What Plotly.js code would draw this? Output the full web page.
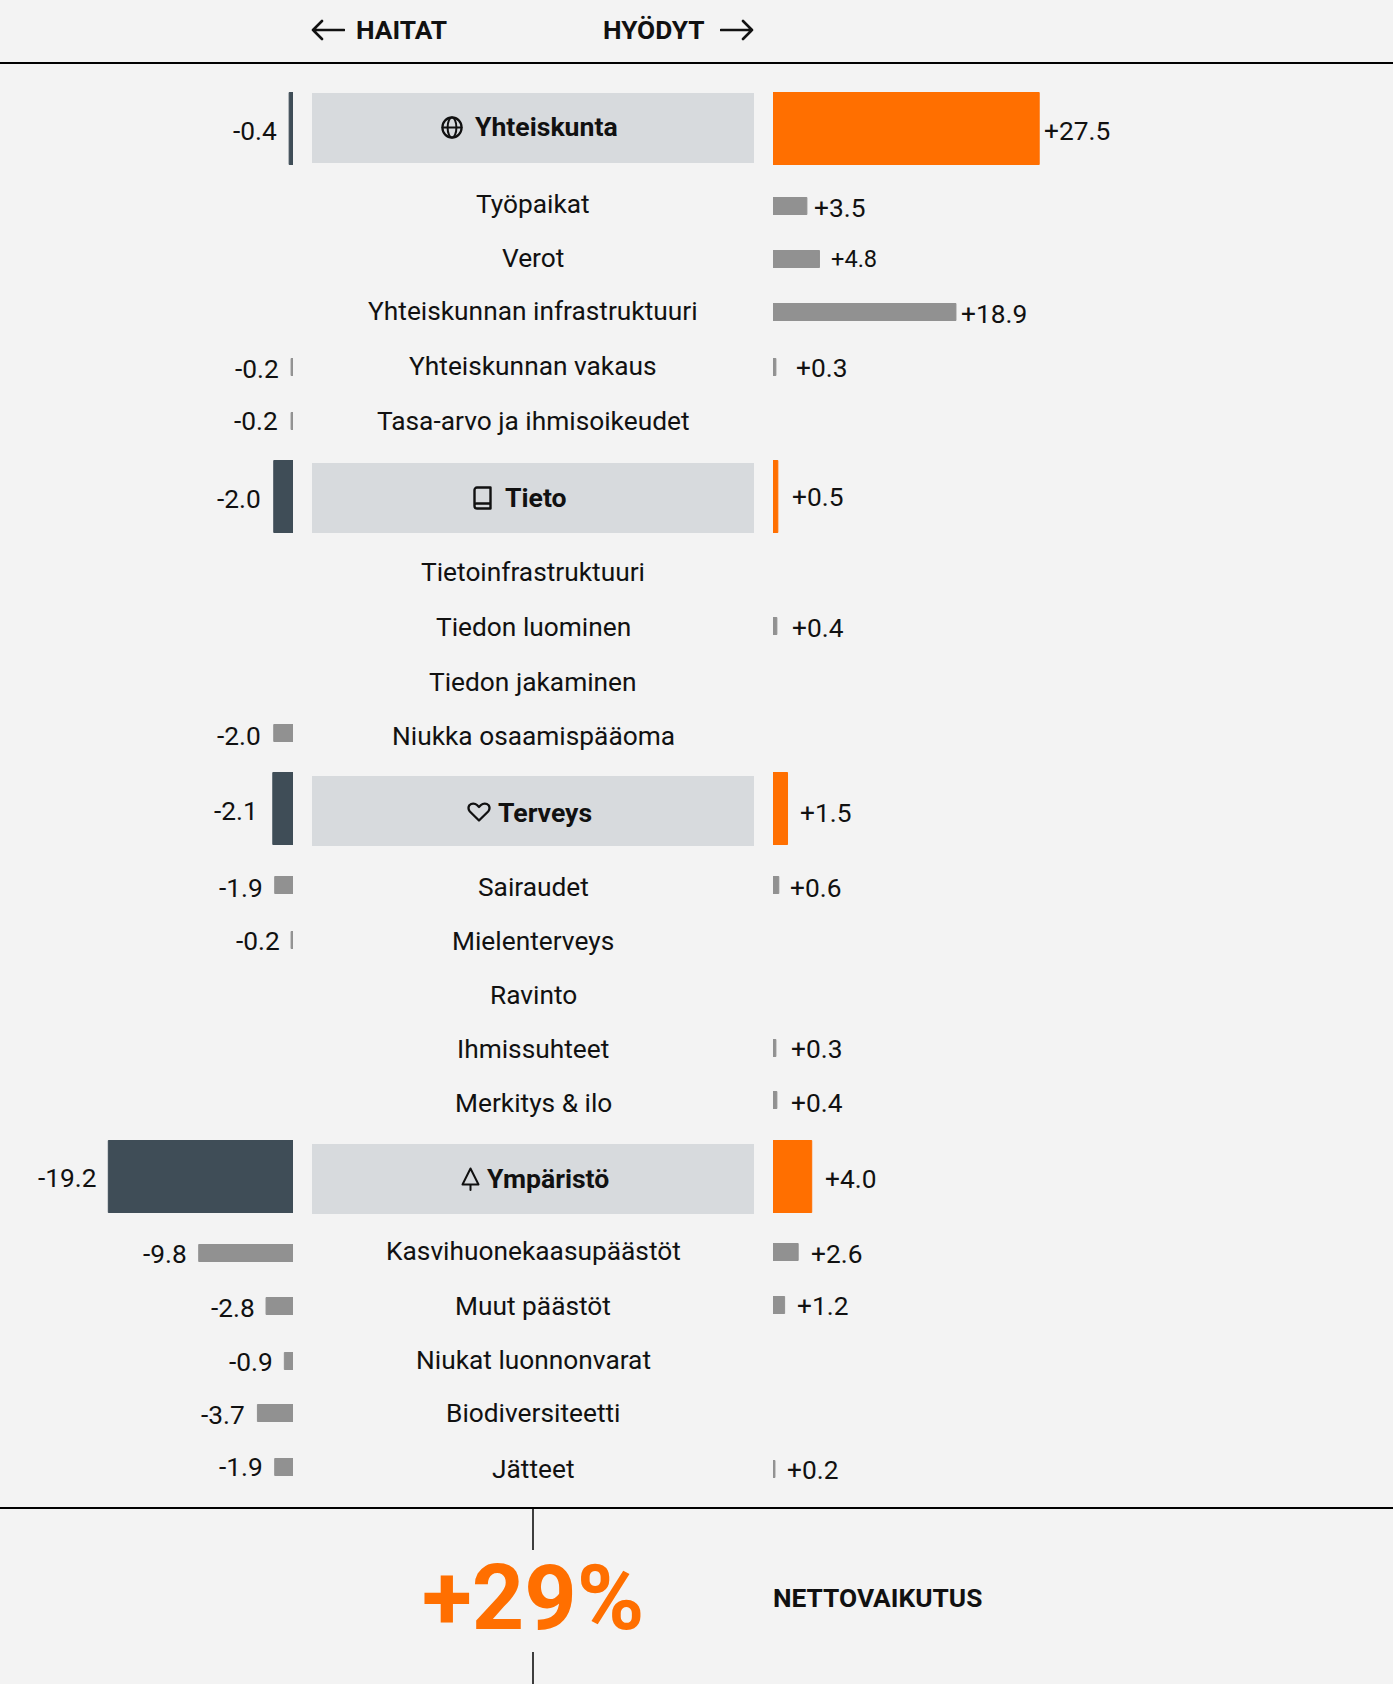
<!DOCTYPE html>
<html><head><meta charset="utf-8">
<script src="https://cdn.plot.ly/plotly-3.0.1.min.js"></script>
<style>html,body{margin:0;padding:0;background:#f3f3f3}#chart{width:1393px;height:1684px}</style>
</head><body><div id="chart"></div>
<script>
const categories=["Yhteiskunta","Työpaikat","Verot","Yhteiskunnan infrastruktuuri","Yhteiskunnan vakaus","Tasa-arvo ja ihmisoikeudet","Tieto","Tietoinfrastruktuuri","Tiedon luominen","Tiedon jakaminen","Niukka osaamispääoma","Terveys","Sairaudet","Mielenterveys","Ravinto","Ihmissuhteet","Merkitys & ilo","Ympäristö","Kasvihuonekaasupäästöt","Muut päästöt","Niukat luonnonvarat","Biodiversiteetti","Jätteet"];
const harmValues=[-0.4,null,null,null,-0.2,-0.2,-2.0,null,null,null,-2.0,-2.1,-1.9,-0.2,null,null,null,-19.2,-9.8,-2.8,-0.9,-3.7,-1.9];
const benefitValues=[27.5,3.5,4.8,18.9,0.3,null,0.5,null,0.4,null,null,1.5,0.6,null,null,0.3,0.4,4.0,2.6,1.2,null,null,0.2];
const groupNames=["Yhteiskunta","Tieto","Terveys","Ympäristö"];
const netValue="+29%";

// layout helpers, in page pixels
const W=1393,H=1684,pxLeft=9.62,pxRight=9.68,zeroL=293,zeroR=773,textDy=-0.4;
const harmBarY=[128.5,null,null,null,367,421,496.5,null,null,null,733,808.5,885,940,null,null,null,1176.5,1253,1306,1361,1413,1467];
const benefitBarY=[128.5,206,259,312,367,null,496.5,null,626,null,null,808.5,885,null,null,1048,1100,1176.5,1252,1305,null,null,1469];
const textY=[127,204,258,311.5,366,421,498,572.5,627,682,736,813,887,941,995,1049,1103,1179,1251,1306,1360,1413.5,1469];
const harmLabelX=[277,0,0,0,279,278,261,0,0,0,261,258,263,280,0,0,0,97,187,254.5,273,245,263];
const harmLabelY=[131,0,0,0,369,421,499,0,0,0,736,811,888,941,0,0,0,1178,1254,1308,1362,1415,1467];
const benefitLabelX=[1044,814,831,961,796,0,792,0,792,0,0,800,790,0,0,791,791,825,811,797,0,0,787];
const benefitLabelY=[131,208,259,314,368,0,497,0,628,0,0,813,888,0,0,1049,1103,1179,1254,1306,0,0,1470];
const headerTextX={"Yhteiskunta":474.5,"Tieto":504.5,"Terveys":497.5,"Ympäristö":486.5};
const headerBand={"Yhteiskunta":[93,163],"Tieto":[463,533],"Terveys":[776,846],"Ympäristö":[1144,1214]};

const ORANGE="#ff6f00",DARK="#3f4d57",GRAY="#919191",BAND="#d7dadd",BG="#f3f3f3",INK="#111111";
const isHead=c=>groupNames.includes(c);
const FONT="Roboto, sans-serif";

function barTrace(vals,ys,head,color,xa){
  const x=[],y=[],t=[];
  vals.forEach((v,i)=>{ if(v!==null && isHead(categories[i])===head){x.push(v);y.push(ys[i]);t.push(categories[i]);}});
  return {type:"bar",orientation:"h",x:x,y:y,width:y.map(()=>head?72:17),text:t,textposition:"none",xaxis:xa,yaxis:"y",
    marker:{color:color,line:{color:color,width:1}},hoverinfo:"text+x",showlegend:false};
}
const data=[
  barTrace(harmValues,harmBarY,true,DARK,"x"),
  barTrace(harmValues,harmBarY,false,GRAY,"x"),
  barTrace(benefitValues,benefitBarY,true,ORANGE,"x2"),
  barTrace(benefitValues,benefitBarY,false,GRAY,"x2")
];

const ann=(text,x,y,anchor,size,bold,color)=>({text:bold?"<b>"+text+"</b>":text,xref:"paper",x:x/W,yref:"y",y:y+textDy,xanchor:anchor,yanchor:"middle",
  showarrow:false,borderpad:0,borderwidth:0,font:{family:FONT,size:size,color:color||INK}});
const annotations=[];
categories.forEach((c,i)=>{
  if(isHead(c)) annotations.push(ann(c,headerTextX[c],textY[i],"left",26.6,true));
  else annotations.push(ann(c,533,textY[i],"center",26.3,false));
  if(harmValues[i]!==null) annotations.push(ann(harmValues[i].toFixed(1),harmLabelX[i],harmLabelY[i],"right",26.3,false));
  if(benefitValues[i]!==null) annotations.push(ann("+"+benefitValues[i].toFixed(1),benefitLabelX[i],benefitLabelY[i],"left",c==="Verot"?23.6:26.3,false));
});
annotations.push(ann("HAITAT",356,30,"left",26.3,true));
annotations.push(ann("HYÖDYT",602.5,30,"left",26.3,true));
annotations.push(ann(netValue,533,1598,"center",91.5,true,ORANGE));
annotations.push(ann("NETTOVAIKUTUS",772.5,1598,"left",26.3,true));

const rect=(x0,x1,y0,y1)=>({type:"rect",xref:"paper",yref:"y",x0:x0/W,x1:x1/W,y0:y0,y1:y1,fillcolor:BAND,line:{width:0},layer:"below"});
const line=(x0,x1,y0,y1,w)=>({type:"line",xref:"paper",yref:"y",x0:x0/W,x1:x1/W,y0:y0,y1:y1,line:{color:"#000",width:w},layer:"above"});
const shapes=groupNames.map(g=>rect(312,754,headerBand[g][0],headerBand[g][1]));
shapes.push(line(0,W,63,63,2),line(0,W,1508,1508,2),line(533,533,1508,1550,1.5),line(533,533,1652,1684,1.5));

const svg=(w,h,body)=>"data:image/svg+xml;utf8,"+encodeURIComponent(`<svg xmlns="http://www.w3.org/2000/svg" viewBox="0 0 ${w} ${h}" width="${w*4}" height="${h*4}" fill="none" stroke="#111" stroke-linecap="round" stroke-linejoin="round">${body}</svg>`);
const icon=(src,x0,x1,y0,y1)=>({source:src,xref:"paper",yref:"y",x:x0/W,y:y0,sizex:(x1-x0)/W,sizey:y1-y0,xanchor:"left",yanchor:"top",sizing:"stretch",layer:"above"});
const images=[
  icon(svg(34,22,'<path stroke-width="2.6" d="M2 11H33M11 2L2 11L11 20"/>'),311,345,19,41),
  icon(svg(34,22,'<path stroke-width="2.6" d="M1 11H32M23 2L32 11L23 20"/>'),720,754,19,41),
  icon(svg(22,22,'<circle cx="11" cy="11" r="9.6" stroke-width="2.2"/><ellipse cx="11" cy="11" rx="4.4" ry="9.6" stroke-width="2"/><path stroke-width="2" d="M1.5 11H20.5"/>'),441,463,116,139),
  icon(svg(20,24,'<path stroke-width="2.4" d="M4 1.5H17.5V22.5H4A2.5 2.5 0 0 1 1.5 20V4A2.5 2.5 0 0 1 4 1.5ZM1.5 19.5A2 2 0 0 1 4 17.5H17.5"/>'),473,493,486,510),
  icon(svg(24,20,'<path stroke-width="2.3" d="M12 18.5L2.6 9.2A5.4 5.4 0 0 1 2.4 3.2A5.4 5.4 0 0 1 10 3L12 5L14 3A5.4 5.4 0 0 1 21.6 3.2A5.4 5.4 0 0 1 21.4 9.2Z"/>'),467,491,802,822),
  icon(svg(19,24,'<path stroke-width="2" d="M9.5 1.5L17.5 17.5H1.5ZM9.5 17.5V23"/>'),461,480,1167,1191)
];

const layout={width:W,height:H,margin:{l:0,r:0,t:0,b:0,pad:0},paper_bgcolor:BG,plot_bgcolor:BG,barmode:"overlay",showlegend:false,
  font:{family:FONT,color:INK},
  xaxis:{domain:[0,zeroL/W],range:[-zeroL/pxLeft,0],visible:false,fixedrange:true,anchor:"y"},
  xaxis2:{domain:[zeroR/W,1],range:[0,(W-zeroR)/pxRight],visible:false,fixedrange:true,anchor:"y"},
  yaxis:{domain:[0,1],range:[H,0],visible:false,fixedrange:true},
  shapes:shapes,annotations:annotations,images:images};
Plotly.newPlot("chart",data,layout,{displayModeBar:false});
</script></body></html>
